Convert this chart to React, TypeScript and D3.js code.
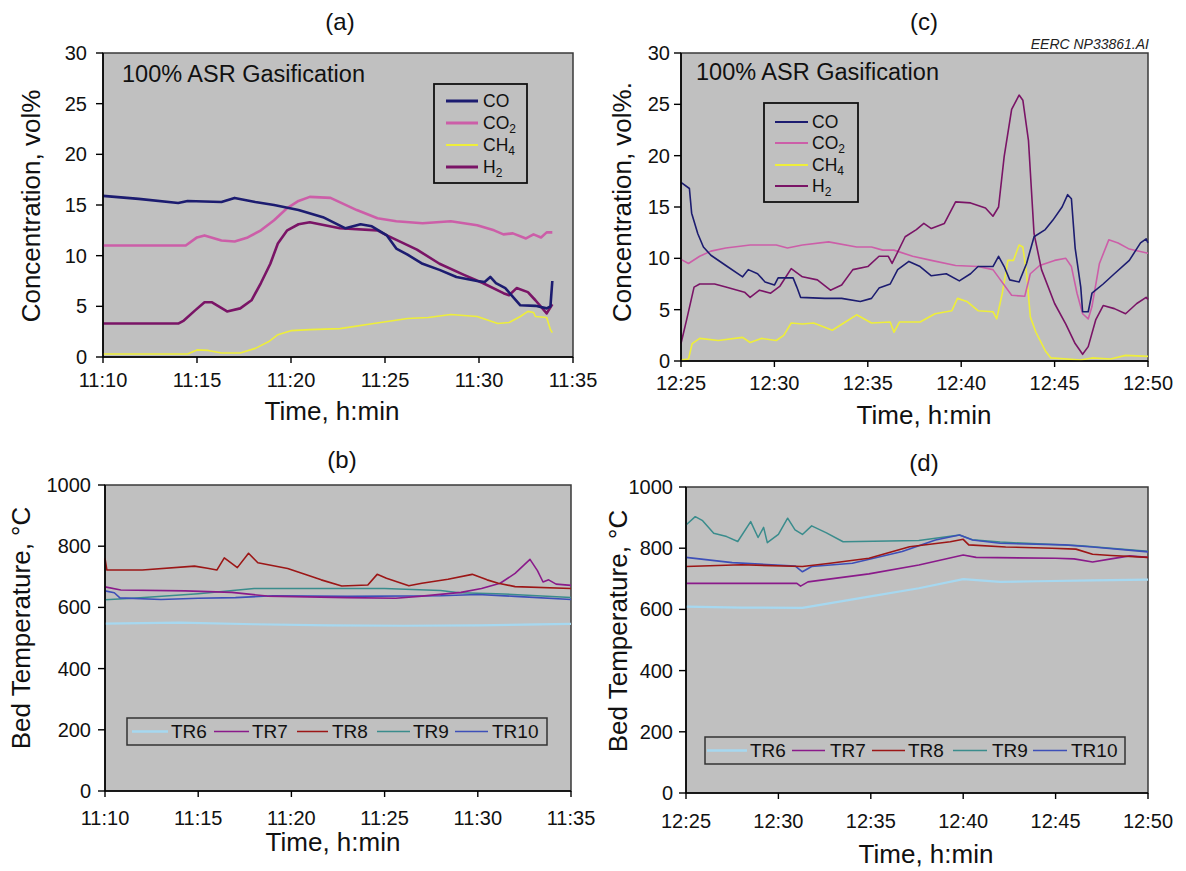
import React from "react";
import * as d3 from "d3";

// ---------- data: minutes after the first tick, value ----------
const timesA = ["11:10", "11:15", "11:20", "11:25", "11:30", "11:35"];
const timesC = ["12:25", "12:30", "12:35", "12:40", "12:45", "12:50"];
const gasTicks = [0, 5, 10, 15, 20, 25, 30];
const tempTicks = [0, 200, 400, 600, 800, 1000];

const coA = [[0,15.9],[1.9,15.6],[4,15.2],[4.5,15.4],[6.3,15.3],[7,15.7],[8.1,15.3],[9.1,15.0],[10.4,14.5],[11.7,13.8],[12.9,12.7],[13.7,13.1],[14.3,12.9],[15.1,12.0],[15.6,10.7],[16.2,10.1],[17.0,9.2],[17.9,8.6],[18.8,7.9],[19.9,7.5],[20.3,7.4],[20.6,7.9],[20.9,7.3],[21.4,6.8],[22.2,5.1],[23.0,5.05],[23.6,4.8],[23.8,5.0],[23.9,7.5]];
const co2A = [[0,11.0],[4.4,11.0],[5.0,11.8],[5.4,12.0],[6.3,11.5],[7.0,11.4],[7.7,11.8],[8.4,12.5],[9.1,13.5],[9.8,14.7],[10.4,15.4],[11.0,15.8],[12.1,15.7],[13.5,14.5],[14.6,13.7],[15.6,13.4],[17.0,13.2],[18.5,13.4],[19.9,13.0],[20.8,12.5],[21.3,12.1],[21.8,12.2],[22.5,11.7],[22.9,12.1],[23.3,11.8],[23.6,12.3],[23.9,12.3]];
const ch4A = [[0,0.3],[4.5,0.3],[5.0,0.7],[5.6,0.65],[6.3,0.4],[7.3,0.4],[8.1,0.85],[8.8,1.5],[9.3,2.2],[10.0,2.6],[11.0,2.7],[12.6,2.8],[14.4,3.3],[16.2,3.8],[17.3,3.9],[18.5,4.2],[19.9,4.0],[21.0,3.3],[21.6,3.4],[22.2,4.0],[22.6,4.5],[22.9,4.4],[23.0,4.0],[23.6,3.9],[23.8,2.7],[23.9,2.4]];
const h2A = [[0,3.3],[4.0,3.3],[4.3,3.6],[4.9,4.6],[5.4,5.4],[5.8,5.4],[6.6,4.5],[7.3,4.8],[7.9,5.6],[8.4,7.3],[8.9,9.2],[9.3,11.2],[9.8,12.5],[10.4,13.1],[11.0,13.3],[12.6,12.7],[14.6,12.5],[15.1,12.0],[16.7,10.6],[17.9,9.2],[19.2,8.1],[20.2,7.3],[21.3,6.3],[21.6,6.1],[22.0,6.8],[22.6,6.4],[23.0,5.6],[23.6,4.3],[23.9,5.2]];

const coC = [[0,17.4],[0.45,16.8],[0.57,14.4],[0.9,12.4],[1.2,11.1],[1.6,10.3],[2.4,9.3],[3.3,8.2],[3.6,8.9],[4.1,8.5],[4.5,7.7],[5.0,7.4],[5.2,8.1],[6.0,8.1],[6.2,7.2],[6.4,6.2],[7.7,6.1],[8.6,6.1],[9.6,5.8],[10.2,6.1],[10.6,7.1],[11.2,7.5],[11.6,8.9],[12.2,9.7],[12.8,9.2],[13.4,8.3],[14.2,8.5],[14.9,7.8],[15.5,8.5],[15.9,9.2],[16.7,9.2],[17.0,10.2],[17.3,9.2],[17.6,7.9],[18.1,7.7],[18.5,9.5],[18.9,12.1],[19.5,12.8],[19.9,13.7],[20.4,15.0],[20.7,16.2],[20.9,15.8],[21.1,11.0],[21.4,7.2],[21.5,4.8],[21.8,4.8],[22.0,6.6],[22.6,7.5],[23.2,8.5],[24.0,9.8],[24.6,11.5],[24.9,11.9],[25,11.5]];
const co2C = [[0,9.9],[0.4,9.5],[1.0,10.2],[1.6,10.7],[2.4,11.0],[3.7,11.3],[5.1,11.3],[5.7,11.0],[6.5,11.3],[7.9,11.6],[9.4,11.1],[10.2,11.1],[10.8,10.8],[11.4,10.8],[12.4,10.2],[13.4,9.8],[14.7,9.3],[15.9,9.2],[16.7,8.9],[17.1,7.9],[17.7,6.4],[18.4,6.3],[18.7,8.5],[19.2,9.3],[20.0,9.8],[20.6,10.0],[20.9,9.2],[21.2,6.6],[21.5,4.6],[21.8,4.1],[22.0,5.3],[22.4,9.5],[22.9,11.8],[23.4,11.5],[24.0,10.9],[25,10.5]];
const ch4C = [[0,0.1],[0.4,0.2],[0.6,1.7],[1.0,2.2],[2.0,2.0],[3.3,2.3],[3.7,1.8],[4.3,2.2],[5.1,2.0],[5.5,2.5],[5.9,3.7],[6.5,3.6],[7.1,3.7],[8.1,3.0],[8.8,3.8],[9.4,4.5],[10.2,3.7],[11.2,3.8],[11.4,2.8],[11.7,3.8],[12.8,3.8],[13.6,4.6],[14.5,4.9],[14.8,6.1],[15.3,5.8],[15.9,4.9],[16.7,4.8],[16.9,4.1],[17.2,6.6],[17.5,9.8],[17.8,9.8],[18.1,11.3],[18.3,11.1],[18.5,8.5],[18.7,4.3],[19.0,2.8],[19.5,1.0],[19.8,0.3],[21.4,0.1],[22.0,0.3],[23.0,0.2],[23.8,0.55],[25,0.45]];
const h2C = [[0,1.7],[0.3,4.0],[0.7,7.2],[1.0,7.5],[1.8,7.5],[2.4,7.2],[3.4,6.7],[3.7,6.2],[4.2,6.9],[4.8,6.6],[5.3,7.3],[5.9,9.0],[6.5,8.2],[7.3,7.9],[8.0,6.9],[8.6,7.4],[9.2,8.9],[10.0,9.2],[10.6,10.2],[11.1,10.2],[11.3,9.5],[12.0,12.1],[12.6,12.8],[13.0,13.4],[13.4,12.9],[14.1,13.4],[14.7,15.5],[15.5,15.4],[16.3,14.9],[16.7,14.1],[17.0,15.0],[17.3,19.9],[17.7,24.5],[18.1,25.9],[18.3,25.4],[18.6,21.5],[18.9,12.4],[19.3,8.9],[20.0,5.6],[20.6,3.6],[21.1,1.7],[21.5,0.65],[21.8,1.4],[22.2,4.0],[22.6,5.4],[23.2,5.1],[23.8,4.6],[24.4,5.6],[24.9,6.2],[25,6.0]];

const tr6B = [[0,547],[4,550],[8,545],[12,541],[16,540],[20,541],[25,546]];
const tr7B = [[0,667],[0.85,657],[4.3,654],[6.8,649],[8.7,637],[13,632],[15.6,630],[17,637],[19.1,649],[20.2,662],[21.2,679],[22,711],[22.5,740],[22.8,757],[23.2,720],[23.5,683],[23.8,690],[24.2,676],[25,672]];
const tr8B = [[0,760],[0.1,722],[2,722],[4.8,735],[5.5,728],[6.0,722],[6.4,762],[7.1,730],[7.7,777],[8.2,746],[9.8,727],[11.6,690],[12.7,670],[14.1,673],[14.6,708],[15.1,695],[16.3,671],[17,679],[18.4,692],[19.7,708],[20.5,690],[21.1,679],[22,668],[25,662]];
const tr9B = [[0,625],[1.5,630],[5,645],[7,656],[8,662],[15,662],[18,655],[19,648],[21,645],[25,632]];
const tr10B = [[0,654],[0.5,648],[0.8,631],[3,626],[5,630],[7,632],[9,638],[13,636],[18,638],[20,642],[22,636],[25,626]];

const tr6D = [[0,609],[3,606],[6.3,605],[9.9,642],[12.6,669],[15,699],[17,690],[19,692],[22,695],[25,697]];
const tr7D = [[0,685],[6.0,685],[6.2,676],[6.6,690],[9.9,716],[12.6,745],[15,778],[15.7,770],[20,767],[21,765],[22,755],[23,765],[24,775],[25,770]];
const tr8D = [[0,740],[3,746],[6.3,740],[7.8,751],[9.9,767],[12.1,805],[14.3,821],[15,829],[15.3,811],[17.3,804],[19.8,800],[21.1,797],[22,780],[23,776],[25,770]];
const tr9D = [[0,876],[0.5,903],[0.9,890],[1.5,849],[2.2,838],[2.8,822],[3.5,887],[3.9,835],[4.2,868],[4.4,818],[5,845],[5.5,898],[5.9,860],[6.3,845],[6.8,873],[7.6,850],[8.5,821],[12.6,825],[14.8,843],[15.5,828],[17,820],[21.4,808],[23,800],[25,790]];
const tr10D = [[0,770],[2.5,753],[5.9,742],[6.3,723],[6.8,740],[9,751],[11.7,789],[13.5,827],[14.8,843],[15.5,827],[17,816],[20.5,811],[22,804],[25,788]];

// ---------- styling ----------
const FONT = "'Liberation Sans', Arial, Helvetica, sans-serif";
const PLOT_BG = "#c0c0c0";
const C_CO = "#1c1c70";
const C_CO2 = "#cc5ea8";
const C_CH4 = "#eeee3a";
const C_H2 = "#7a1466";
const C_TR6 = "#a6d8f0";
const C_TR7 = "#8a1a8a";
const C_TR8 = "#9c1616";
const C_TR9 = "#3a8c8c";
const C_TR10 = "#3d4fb8";

type Series = { name: string; data: number[][]; color: string; width: number };

type PanelProps = {
  box: { x0: number; x1: number; y0: number; y1: number };
  yMax: number;
  yTicks: number[];
  xLabels: string[];
  yLabelGap: number;
  xLabelBase: number;
  series: Series[];
  title: { x: number; y: number; text: string };
  xTitle: { x: number; y: number };
  yTitle: { x: number; y: number; text: string };
  children?: React.ReactNode;
};

function Panel(p: PanelProps) {
  const { box } = p;
  const x = d3.scaleLinear().domain([0, 25]).range([box.x0, box.x1]);
  const y = d3.scaleLinear().domain([0, p.yMax]).range([box.y1, box.y0]);
  const line = d3
    .line<number[]>()
    .x((d) => x(d[0]))
    .y((d) => y(d[1]));
  const xTickVals = p.xLabels.map((_, i) => i * 5);
  return (
    <g>
      <rect
        x={box.x0}
        y={box.y0}
        width={box.x1 - box.x0}
        height={box.y1 - box.y0}
        fill={PLOT_BG}
        stroke="#3a3a3a"
        strokeWidth={1.5}
      />
      <g clipPath="none">
        {p.series.map((s) => (
          <path
            key={s.name}
            d={line(s.data) || ""}
            fill="none"
            stroke={s.color}
            strokeWidth={s.width}
            strokeLinejoin="round"
          />
        ))}
      </g>
      {/* axes */}
      <line x1={box.x0} x2={box.x0} y1={box.y0} y2={box.y1} stroke="#000" strokeWidth={1.6} />
      <line x1={box.x0} x2={box.x1} y1={box.y1} y2={box.y1} stroke="#000" strokeWidth={1.6} />
      {p.yTicks.map((t) => (
        <g key={"y" + t}>
          <line x1={box.x0 - 7} x2={box.x0} y1={y(t)} y2={y(t)} stroke="#000" strokeWidth={1.4} />
          <text
            x={box.x0 - p.yLabelGap}
            y={y(t)}
            dy="0.35em"
            textAnchor="end"
            fontSize={20}
            fontFamily={FONT}
            fill="#111"
          >
            {t}
          </text>
        </g>
      ))}
      {xTickVals.map((t, i) => (
        <g key={"x" + t}>
          <line x1={x(t)} x2={x(t)} y1={box.y1} y2={box.y1 + 6} stroke="#000" strokeWidth={1.4} />
          <text
            x={x(t)}
            y={p.xLabelBase}
            textAnchor="middle"
            fontSize={20}
            fontFamily={FONT}
            fill="#111"
          >
            {p.xLabels[i]}
          </text>
        </g>
      ))}
      <text
        x={p.title.x}
        y={p.title.y}
        textAnchor="middle"
        fontSize={24}
        fontFamily={FONT}
        fill="#111"
      >
        {p.title.text}
      </text>
      <text
        x={p.xTitle.x}
        y={p.xTitle.y}
        textAnchor="middle"
        fontSize={26}
        fontFamily={FONT}
        fill="#111"
      >
        Time, h:min
      </text>
      <text
        transform={`translate(${p.yTitle.x},${p.yTitle.y}) rotate(-90)`}
        textAnchor="middle"
        fontSize={26}
        fontFamily={FONT}
        fill="#111"
      >
        {p.yTitle.text}
      </text>
      {p.children}
    </g>
  );
}

function GasLegend(props: {
  box: { x0: number; x1: number; y0: number; y1: number };
  rows: number[];
  lineX: [number, number];
  textX: number;
  widths: number[];
}) {
  const items = [
    { main: "CO", sub: "", color: C_CO },
    { main: "CO", sub: "2", color: C_CO2 },
    { main: "CH", sub: "4", color: C_CH4 },
    { main: "H", sub: "2", color: C_H2 },
  ];
  const { box } = props;
  return (
    <g>
      <rect
        x={box.x0}
        y={box.y0}
        width={box.x1 - box.x0}
        height={box.y1 - box.y0}
        fill={PLOT_BG}
        stroke="#111"
        strokeWidth={1.8}
      />
      {items.map((it, i) => (
        <g key={i}>
          <line
            x1={props.lineX[0]}
            x2={props.lineX[1]}
            y1={props.rows[i]}
            y2={props.rows[i]}
            stroke={it.color}
            strokeWidth={props.widths[i]}
          />
          <text
            x={props.textX}
            y={props.rows[i]}
            dy="0.36em"
            fontSize={17.5}
            fontFamily={FONT}
            fill="#111"
          >
            {it.main}
            {it.sub && (
              <tspan fontSize={12} dy={4}>
                {it.sub}
              </tspan>
            )}
          </text>
        </g>
      ))}
    </g>
  );
}

function TempLegend(props: {
  box: { x0: number; x1: number; y0: number; y1: number };
  base: number;
  lines: [number, number][];
  texts: number[];
}) {
  const items = [
    { name: "TR6", color: C_TR6, w: 2.5 },
    { name: "TR7", color: C_TR7, w: 1.5 },
    { name: "TR8", color: C_TR8, w: 1.5 },
    { name: "TR9", color: C_TR9, w: 1.5 },
    { name: "TR10", color: C_TR10, w: 1.5 },
  ];
  const { box } = props;
  const mid = (box.y0 + box.y1) / 2;
  return (
    <g>
      <rect
        x={box.x0}
        y={box.y0}
        width={box.x1 - box.x0}
        height={box.y1 - box.y0}
        fill={PLOT_BG}
        stroke="#333"
        strokeWidth={1.5}
      />
      {items.map((it, i) => (
        <g key={it.name}>
          <line
            x1={props.lines[i][0]}
            x2={props.lines[i][1]}
            y1={mid}
            y2={mid}
            stroke={it.color}
            strokeWidth={it.w}
          />
          <text x={props.texts[i]} y={props.base} fontSize={19} fontFamily={FONT} fill="#111">
            {it.name}
          </text>
        </g>
      ))}
    </g>
  );
}

export default function App() {
  const boxA = { x0: 103, x1: 573, y0: 53, y1: 357 };
  const boxC = { x0: 681, x1: 1148, y0: 53, y1: 361 };
  const boxB = { x0: 105, x1: 571, y0: 485, y1: 791 };
  const boxD = { x0: 686, x1: 1148, y0: 487, y1: 793 };

  const gas = (co: number[][], co2: number[][], ch4: number[][], h2: number[][], w: number): Series[] => [
    { name: "CH4", data: ch4, color: C_CH4, width: 1.6 },
    { name: "CO2", data: co2, color: C_CO2, width: w },
    { name: "H2", data: h2, color: C_H2, width: w },
    { name: "CO", data: co, color: C_CO, width: w },
  ];
  const temps = (t6: number[][], t7: number[][], t8: number[][], t9: number[][], t10: number[][]): Series[] => [
    { name: "TR6", data: t6, color: C_TR6, width: 2.2 },
    { name: "TR9", data: t9, color: C_TR9, width: 1.5 },
    { name: "TR10", data: t10, color: C_TR10, width: 1.6 },
    { name: "TR7", data: t7, color: C_TR7, width: 1.6 },
    { name: "TR8", data: t8, color: C_TR8, width: 1.6 },
  ];

  return (
    <svg
      width={1186}
      height={871}
      style={{ position: "absolute", left: 0, top: 0, background: "#fff" }}
    >
      <rect x={0} y={0} width={1186} height={871} fill="#fff" />

      <Panel
        box={boxA}
        yMax={30}
        yTicks={gasTicks}
        xLabels={timesA}
        yLabelGap={16}
        xLabelBase={387}
        series={gas(coA, co2A, ch4A, h2A, 2.6)}
        title={{ x: 340, y: 30, text: "(a)" }}
        xTitle={{ x: 332, y: 420 }}
        yTitle={{ x: 40, y: 206, text: "Concentration, vol%" }}
      >
        <text x={122} y={82} fontSize={23.5} fontFamily={FONT} fill="#111">
          100% ASR Gasification
        </text>
        <GasLegend
          box={{ x0: 434, x1: 527, y0: 84, y1: 183 }}
          rows={[101, 123, 145, 167]}
          lineX={[446, 478]}
          textX={483}
          widths={[3, 3, 2, 3]}
        />
      </Panel>

      <Panel
        box={boxC}
        yMax={30}
        yTicks={gasTicks}
        xLabels={timesC}
        yLabelGap={11}
        xLabelBase={390}
        series={gas(coC, co2C, ch4C, h2C, 1.6)}
        title={{ x: 924, y: 30, text: "(c)" }}
        xTitle={{ x: 924, y: 424 }}
        yTitle={{ x: 631, y: 202, text: "Concentration, vol%." }}
      >
        <text x={696} y={80} fontSize={23.5} fontFamily={FONT} fill="#111">
          100% ASR Gasification
        </text>
        <GasLegend
          box={{ x0: 764, x1: 858, y0: 103, y1: 202 }}
          rows={[122, 143, 165, 186]}
          lineX={[775, 808]}
          textX={812}
          widths={[2.2, 2.2, 2.2, 2.2]}
        />
        <text
          x={1149}
          y={49}
          textAnchor="end"
          fontSize={14}
          fontStyle="italic"
          fontFamily={FONT}
          fill="#222"
        >
          EERC NP33861.AI
        </text>
      </Panel>

      <Panel
        box={boxB}
        yMax={1000}
        yTicks={tempTicks}
        xLabels={timesA}
        yLabelGap={14}
        xLabelBase={825}
        series={temps(tr6B, tr7B, tr8B, tr9B, tr10B)}
        title={{ x: 342, y: 468, text: "(b)" }}
        xTitle={{ x: 333, y: 851 }}
        yTitle={{ x: 30, y: 628, text: "Bed Temperature, °C" }}
      >
        <TempLegend
          box={{ x0: 127, x1: 547, y0: 718, y1: 745 }}
          base={738}
          lines={[[132, 168], [214, 249], [297, 328], [377, 410], [455, 488]]}
          texts={[171, 252, 332, 413, 492]}
        />
      </Panel>

      <Panel
        box={boxD}
        yMax={1000}
        yTicks={tempTicks}
        xLabels={timesC}
        yLabelGap={13}
        xLabelBase={828}
        series={temps(tr6D, tr7D, tr8D, tr9D, tr10D)}
        title={{ x: 924, y: 471, text: "(d)" }}
        xTitle={{ x: 926, y: 863 }}
        yTitle={{ x: 627, y: 631, text: "Bed Temperature, °C" }}
      >
        <TempLegend
          box={{ x0: 705, x1: 1125, y0: 737, y1: 764 }}
          base={757}
          lines={[[707, 747], [792, 825], [872, 905], [953, 987], [1033, 1067]]}
          texts={[750, 830, 908, 992, 1071]}
        />
      </Panel>
    </svg>
  );
}
